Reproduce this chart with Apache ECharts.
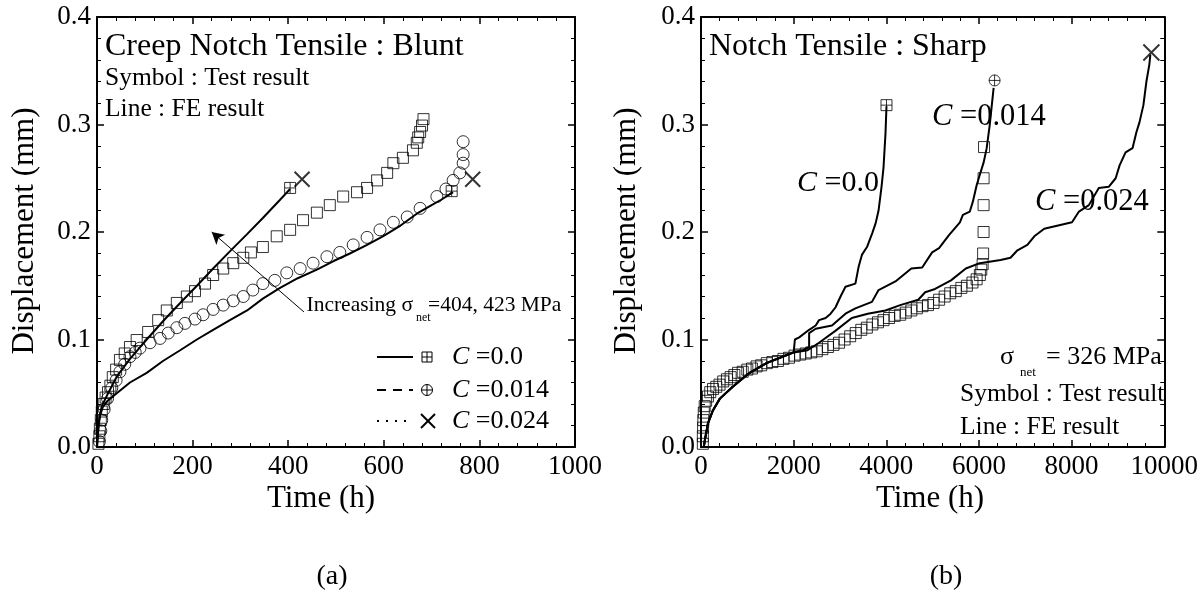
<!DOCTYPE html>
<html><head><meta charset="utf-8">
<script src="https://cdn.jsdelivr.net/npm/echarts@6/dist/echarts.min.js"></script>
<style>html,body{margin:0;padding:0;background:#fff}#c{width:1201px;height:593px}</style>
</head><body><div id="c"></div>
<script>
// ---------- DATA ----------
const yTickLabels = ['0.0','0.1','0.2','0.3','0.4'];
const xTickLabelsA = ['0','200','400','600','800','1000'];
const xTickLabelsB = ['0','2000','4000','6000','8000','10000'];

// (a) Blunt: test results
const bluntSquares = [[3,0.003],[5,0.01],[6,0.017],[8,0.025],[10,0.033],[14,0.04],[18,0.046],[23,0.051],[28,0.057],[33,0.065],[40,0.072],[48,0.081],[58,0.087],[69,0.093],[83,0.0995],[107,0.107],[128,0.118],[146,0.127],[167,0.134],[188,0.14],[205,0.145],[226,0.152],[243,0.16],[264,0.166],[285,0.171],[306,0.176],[322,0.181],[347,0.186],[376,0.196],[404,0.202],[431,0.211],[460,0.218],[487,0.225],[515,0.233],[544,0.237],[565,0.241],[586,0.248],[607,0.255],[620,0.264],[640,0.269],[661,0.276],[669,0.283],[672,0.288],[676,0.293],[680,0.299],[683,0.305]];
const bluntCircles = [[5,0.005],[8,0.015],[10,0.025],[15,0.035],[22,0.045],[31,0.055],[40,0.062],[48,0.07],[58,0.077],[69,0.084],[80,0.088],[90,0.092],[111,0.097],[132,0.101],[149,0.106],[167,0.111],[184,0.115],[205,0.119],[222,0.123],[243,0.128],[264,0.132],[285,0.136],[306,0.14],[326,0.146],[347,0.152],[372,0.155],[397,0.162],[425,0.166],[452,0.171],[481,0.177],[508,0.181],[536,0.188],[565,0.195],[592,0.202],[620,0.209],[649,0.214],[676,0.222],[711,0.233],[730,0.24],[745,0.248],[759,0.255],[766,0.264],[766,0.272],[766,0.284]];
// (a) Blunt: FE results
const bluntFEHigh = [[0,0],[2,0.015],[5,0.028],[10,0.038],[21,0.048],[42,0.066],[69,0.082],[104,0.1],[138,0.117],[174,0.134],[209,0.15],[243,0.166],[278,0.182],[314,0.198],[347,0.213],[383,0.23],[404,0.24]];
const bluntFELow = [[0,0],[2,0.012],[4,0.022],[7,0.03],[12,0.037],[20,0.042],[33,0.047],[69,0.06],[104,0.069],[138,0.08],[174,0.09],[209,0.1],[243,0.109],[278,0.118],[314,0.127],[347,0.138],[383,0.148],[420,0.157],[460,0.165],[495,0.173],[529,0.18],[565,0.188],[598,0.196],[635,0.206],[669,0.217],[700,0.225],[720,0.23],[745,0.237]];
const bluntEndBoxPlus = [[404,0.241],[742,0.238]];
const bluntEndCross = [[429,0.249],[786,0.249]];
const arrowFrom = [433,0.1256];
const arrowTo = [240,0.2];

// (b) Sharp: test results
const sharpSquares = [[40,0.003],[40,0.01],[45,0.018],[50,0.025],[60,0.032],[80,0.038],[110,0.043],[150,0.047],[200,0.051],[260,0.054],[330,0.056],[400,0.058],[480,0.061],[560,0.063],[640,0.065],[720,0.067],[800,0.069],[900,0.07],[1000,0.072],[1100,0.073],[1200,0.075],[1300,0.076],[1420,0.078],[1540,0.079],[1660,0.08],[1780,0.082],[1900,0.083],[2020,0.085],[2140,0.086],[2260,0.087],[2380,0.088],[2500,0.089],[2620,0.091],[2740,0.093],[2860,0.095],[2980,0.097],[3100,0.1],[3220,0.103],[3340,0.106],[3460,0.109],[3580,0.111],[3700,0.114],[3820,0.116],[3940,0.118],[4060,0.12],[4180,0.122],[4300,0.123],[4420,0.125],[4540,0.127],[4660,0.129],[4780,0.131],[4900,0.132],[5020,0.134],[5140,0.137],[5260,0.14],[5380,0.143],[5500,0.145],[5620,0.148],[5740,0.15],[5860,0.153],[5950,0.156],[6020,0.16],[6050,0.165],[6080,0.17],[6090,0.18],[6100,0.2],[6100,0.225],[6100,0.25],[6110,0.279]];
// (b) Sharp: FE results
const sharpFE00 = [[60,0],[86,0.007],[150,0.022],[257,0.034],[407,0.045],[685,0.056],[1049,0.069],[1413,0.078],[1756,0.084],[2000,0.088],[2027,0.089],[2027,0.1],[2120,0.102],[2334,0.109],[2476,0.113],[2548,0.118],[2691,0.12],[2798,0.124],[2905,0.13],[3012,0.14],[3119,0.149],[3333,0.152],[3404,0.168],[3476,0.179],[3583,0.186],[3697,0.199],[3769,0.208],[3833,0.22],[3897,0.242],[3940,0.26],[3983,0.292],[4004,0.317]];
const sharpFE014 = [[60,0],[86,0.007],[150,0.022],[257,0.034],[407,0.045],[685,0.056],[1049,0.069],[1413,0.078],[1756,0.084],[2000,0.088],[2200,0.09],[2334,0.093],[2334,0.106],[2476,0.11],[2827,0.113],[3119,0.124],[3333,0.129],[3690,0.135],[3833,0.146],[4197,0.154],[4540,0.166],[4775,0.167],[4989,0.181],[5139,0.185],[5353,0.197],[5589,0.209],[5653,0.216],[5803,0.219],[5867,0.228],[5953,0.244],[6017,0.253],[6103,0.265],[6167,0.278],[6231,0.299],[6317,0.334]];
const sharpFE024 = [[60,0],[86,0.007],[150,0.022],[257,0.034],[407,0.045],[685,0.056],[1049,0.069],[1413,0.078],[1756,0.084],[2000,0.088],[2300,0.09],[2548,0.097],[2900,0.108],[3255,0.12],[3600,0.124],[3983,0.127],[4300,0.132],[4690,0.137],[4839,0.144],[5053,0.147],[5396,0.155],[5717,0.166],[6017,0.171],[6467,0.174],[6681,0.176],[6831,0.183],[7045,0.188],[7195,0.196],[7409,0.203],[7709,0.206],[8009,0.209],[8159,0.219],[8373,0.225],[8587,0.241],[8801,0.242],[8951,0.25],[9036,0.262],[9165,0.274],[9315,0.278],[9400,0.293],[9465,0.302],[9550,0.318],[9615,0.34],[9679,0.356],[9700,0.365]];
const sharpEndBoxPlus = [[4004,0.318]];
const sharpEndCirclePlus = [[6338,0.341]];
const sharpEndCross = [[9722,0.367]];

// ---------- STYLE ----------
const FF = '"Liberation Serif","Times New Roman",serif';
const SYM_BOXPLUS = 'path://M0,0H10V10H0Z M5,0V10 M0,5H10';
const SYM_CIRCPLUS = 'path://M10,5A5,5,0,1,1,0,5A5,5,0,1,1,10,5Z M5,0V10 M0,5H10';
const SYM_X = 'path://M0,0L10,10 M10,0L0,10';
const open = (w) => ({color:'rgba(0,0,0,0)', borderColor:'#000', borderWidth:w||1});

function xAx(grid, pos, max, interval, labels){
  return {type:'value', gridIndex:grid, position:pos, min:0, max:max, interval:interval,
    axisLine:{show:true, onZero:false, lineStyle:{color:'#000', width:2}},
    axisTick:{show:true, inside:true, length:7, lineStyle:{color:'#000', width:1.5}},
    minorTick:{show:true, splitNumber:5, length:4, lineStyle:{color:'#000', width:1}},
    splitLine:{show:false}, minorSplitLine:{show:false},
    axisLabel:{show: pos==='bottom', margin:6, color:'#000', fontFamily:FF, fontSize:27,
      formatter:(v,i)=>labels[i]}};
}
function yAx(grid, pos){
  return {type:'value', gridIndex:grid, position:pos, min:0, max:0.4, interval:0.1,
    axisLine:{show:true, onZero:false, lineStyle:{color:'#000', width:2}},
    axisTick:{show:true, inside:true, length:7, lineStyle:{color:'#000', width:1.5}},
    minorTick:{show:true, splitNumber:5, length:4, lineStyle:{color:'#000', width:1}},
    splitLine:{show:false}, minorSplitLine:{show:false},
    axisLabel:{show: pos==='left', margin:6, color:'#000', fontFamily:FF, fontSize:27,
      formatter:(v,i)=>yTickLabels[i]}};
}
function text(x,y,t,size,extra){
  return Object.assign({type:'text', x:x, y:y, z:100, style:Object.assign({text:t, fill:'#000',
    fontFamily:FF, fontSize:size, align:'left', verticalAlign:'middle'}, (extra&&extra.style)||{})},
    extra&&extra.el||{});
}
function cText(x,y,t,size){
  return {type:'text', x:x, y:y, z:100, style:{text:'{i|C} '+t, fill:'#000', fontFamily:FF, fontSize:size,
    align:'left', verticalAlign:'middle', rich:{i:{fontStyle:'italic', fontFamily:FF, fontSize:size, fill:'#000'}}}};
}

const legendRows = [
  {y:357, dash:'solid', sym:'box', label:'=0.0'},
  {y:390, dash:'dash', sym:'circ', label:'=0.014'},
  {y:421, dash:'dot', sym:'x', label:'=0.024'}
];
const graphics = [];
// axis titles
graphics.push(text(25,231,'Displacement (mm)',31,{style:{align:'center'}, el:{rotation:Math.PI/2}}));
graphics.push(text(627,231,'Displacement (mm)',31,{style:{align:'center'}, el:{rotation:Math.PI/2}}));
graphics.push(text(321,499,'Time (h)',31,{style:{align:'center'}}));
graphics.push(text(930,499,'Time (h)',31,{style:{align:'center'}}));
graphics.push(text(332,577,'(a)',28,{style:{align:'center'}}));
graphics.push(text(946,577,'(b)',28,{style:{align:'center'}}));
// in-plot texts (a)
graphics.push(text(105,47,'Creep Notch Tensile : Blunt',32));
graphics.push(text(105,78,'Symbol : Test result',25.5));
graphics.push(text(105,109,'Line : FE result',25.5));
graphics.push(text(413,305,'Increasing σ',21.5,{style:{align:'right'}}));
graphics.push(text(416,318,'net',12));
graphics.push(text(428,305,'=404, 423 MPa',21.5));
// legend (a)
legendRows.forEach(r=>{
  let ld = r.dash==='solid'? null : (r.dash==='dash'? [9,7] : [2,7]);
  graphics.push({type:'line', z:100, shape:{x1:377,y1:r.y,x2:413,y2:r.y}, style:{stroke:'#000', lineWidth:2, lineDash:ld}});
  if(r.sym==='box'){
    graphics.push({type:'rect', z:100, shape:{x:422,y:r.y-5,width:10,height:10}, style:{stroke:'#000',fill:'none',lineWidth:1}});
    graphics.push({type:'line', z:100, shape:{x1:427,y1:r.y-5,x2:427,y2:r.y+5}, style:{stroke:'#000',lineWidth:1}});
    graphics.push({type:'line', z:100, shape:{x1:422,y1:r.y,x2:432,y2:r.y}, style:{stroke:'#000',lineWidth:1}});
  } else if(r.sym==='circ'){
    graphics.push({type:'circle', z:100, shape:{cx:427,cy:r.y,r:5.5}, style:{stroke:'#000',fill:'none',lineWidth:1}});
    graphics.push({type:'line', z:100, shape:{x1:427,y1:r.y-5.5,x2:427,y2:r.y+5.5}, style:{stroke:'#000',lineWidth:1}});
    graphics.push({type:'line', z:100, shape:{x1:421.5,y1:r.y,x2:432.5,y2:r.y}, style:{stroke:'#000',lineWidth:1}});
  } else {
    graphics.push({type:'line', z:100, shape:{x1:421,y1:r.y-7,x2:435,y2:r.y+7}, style:{stroke:'#000',lineWidth:2}});
    graphics.push({type:'line', z:100, shape:{x1:435,y1:r.y-7,x2:421,y2:r.y+7}, style:{stroke:'#000',lineWidth:2}});
  }
  graphics.push(cText(452,r.y,r.label,26));
});
// in-plot texts (b)
graphics.push(text(709,47,'Notch Tensile : Sharp',32));
graphics.push(cText(797,183,'=0.0',30));
graphics.push(cText(932,117,'=0.014',30.5));
graphics.push(cText(1035,202,'=0.024',30.5));
graphics.push(text(1000,357,'σ',26));
graphics.push(text(1020,373,'net',13));
graphics.push(text(1046,357,'= 326 MPa',26));
graphics.push(text(960,394,'Symbol : Test result',25.5));
graphics.push(text(960,427,'Line : FE result',25.5));

const option = {
  animation:false,
  backgroundColor:'#fff',
  grid:[{left:97, top:17, width:478, height:430},{left:701, top:17, width:467, height:430}],
  xAxis:[xAx(0,'bottom',1000,200,xTickLabelsA), xAx(0,'top',1000,200,xTickLabelsA),
         xAx(1,'bottom',10000,2000,xTickLabelsB), xAx(1,'top',10000,2000,xTickLabelsB)],
  yAxis:[yAx(0,'left'), yAx(0,'right'), yAx(1,'left'), yAx(1,'right')],
  series:[
    {type:'scatter', xAxisIndex:0, yAxisIndex:0, data:bluntSquares, symbol:'rect', symbolSize:11, itemStyle:open(1), z:2},
    {type:'scatter', xAxisIndex:0, yAxisIndex:0, data:bluntCircles, symbol:'circle', symbolSize:12, itemStyle:open(1), z:2},
    {type:'line', xAxisIndex:0, yAxisIndex:0, data:bluntFEHigh, showSymbol:false, symbol:'none', lineStyle:{color:'#000', width:2}, z:3,
      markLine:{silent:true, symbol:['none','arrow'], symbolSize:[10,12], label:{show:false},
        lineStyle:{color:'#000', width:1, type:'solid'}, data:[[{coord:arrowFrom},{coord:arrowTo}]]}},
    {type:'line', xAxisIndex:0, yAxisIndex:0, data:bluntFELow, showSymbol:false, symbol:'none', lineStyle:{color:'#000', width:2}, z:3},
    {type:'scatter', xAxisIndex:0, yAxisIndex:0, data:bluntEndBoxPlus, symbol:SYM_BOXPLUS, symbolSize:11, itemStyle:open(1), z:4},
    {type:'scatter', xAxisIndex:0, yAxisIndex:0, data:bluntEndCross, symbol:SYM_X, symbolSize:15, itemStyle:open(2), z:4},

    {type:'scatter', xAxisIndex:2, yAxisIndex:2, data:sharpSquares, symbol:'rect', symbolSize:11, itemStyle:open(1), z:2},
    {type:'line', xAxisIndex:2, yAxisIndex:2, data:sharpFE00, showSymbol:false, symbol:'none', lineStyle:{color:'#000', width:2}, z:3},
    {type:'line', xAxisIndex:2, yAxisIndex:2, data:sharpFE014, showSymbol:false, symbol:'none', lineStyle:{color:'#000', width:2}, z:3},
    {type:'line', xAxisIndex:2, yAxisIndex:2, data:sharpFE024, showSymbol:false, symbol:'none', lineStyle:{color:'#000', width:2}, z:3},
    {type:'scatter', xAxisIndex:2, yAxisIndex:2, data:sharpEndBoxPlus, symbol:SYM_BOXPLUS, symbolSize:11, itemStyle:open(1), z:4},
    {type:'scatter', xAxisIndex:2, yAxisIndex:2, data:sharpEndCirclePlus, symbol:SYM_CIRCPLUS, symbolSize:11, itemStyle:open(1), z:4},
    {type:'scatter', xAxisIndex:2, yAxisIndex:2, data:sharpEndCross, symbol:SYM_X, symbolSize:16, itemStyle:open(2), z:4}
  ],
  graphic:graphics
};
const chart = echarts.init(document.getElementById('c'), null, {renderer:'canvas'});
chart.setOption(option);
</script></body></html>
